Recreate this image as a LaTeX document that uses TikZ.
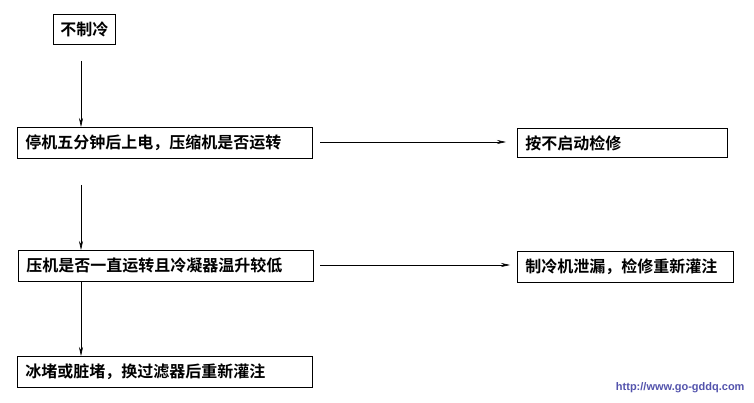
\documentclass[tikz,border=0pt]{standalone}
\usepackage{fontspec}
\newfontfamily\cjk{Noto Sans CJK SC Bold}
\setmainfont{Liberation Sans}
\usetikzlibrary{arrows.meta}
\begin{document}
\begin{tikzpicture}[x=1pt,y=-1pt,
  box/.style={draw,line width=0.8pt,inner sep=0pt,anchor=north west,font=\cjk\fontsize{16}{18}\selectfont},
  arr/.style={line width=0.6pt,-{Stealth[length=9pt,width=4pt]}}]
\useasboundingbox (0,0) rectangle (754,403);
\node[box,minimum width=62pt,minimum height=30pt] (n1) at (53,14) {不制冷};
\node[box,minimum width=295pt,minimum height=31pt,text width=285pt,align=left] (n2) at (17,127) {\hspace*{3pt}停机五分钟后上电，压缩机是否运转};
\node[box,minimum width=210pt,minimum height=29pt,text width=200pt,align=left] (n3) at (517,128) {\hspace*{3pt}按不启动检修};
\node[box,minimum width=295pt,minimum height=31pt,text width=285pt,align=left] (n4) at (18,250) {\hspace*{3pt}压机是否一直运转且冷凝器温升较低};
\node[box,minimum width=216pt,minimum height=31pt,text width=206pt,align=left] (n5) at (517,251) {\hspace*{3pt}制冷机泄漏，检修重新灌注};
\node[box,minimum width=295pt,minimum height=31pt,text width=285pt,align=left] (n6) at (17,356) {\hspace*{3pt}冰堵或脏堵，换过滤器后重新灌注};
\coordinate (a1) at (81,61);
\coordinate (a2) at (81,185);
\coordinate (a3) at (81,281);
\coordinate (h1) at (320,142);
\coordinate (h2) at (320,265);
\draw[arr] (a1) -- (a1 |- n2.north);
\draw[arr] (a2) -- (a2 |- n4.north);
\draw[arr] (a3) -- (a3 |- n6.north);
\draw[arr] (h1) -- (506,142);
\draw[arr] (h2) -- (510,265);
\node[anchor=east,text=blue!35!gray,font=\bfseries\fontsize{11}{12}\selectfont] (w) at (748,388) {http://www.go-gddq.com};
\end{tikzpicture}
\end{document}
